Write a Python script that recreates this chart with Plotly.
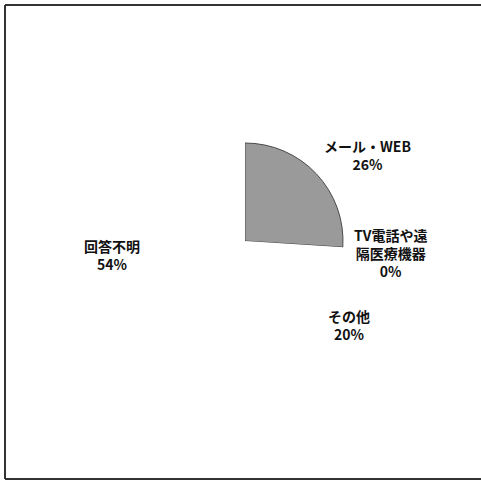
import plotly.graph_objects as go

categories = ["メール・WEB", "TV電話や遠隔医療機器", "その他", "回答不明"]
values = [26, 0, 20, 54]
label_texts = ["メール・WEB<br>26%", "TV電話や遠<br>隔医療機器<br>0%", "その他<br>20%", "回答不明<br>54%"]

W, H = 481, 480
cx, cy, r = 245, 241, 98

fig = go.Figure()
fig.add_trace(go.Pie(
    labels=categories,
    values=values,
    sort=False,
    direction="clockwise",
    rotation=0,
    textinfo="none",
    hoverinfo="label+percent",
    showlegend=False,
    marker=dict(colors=["#9a9a9a", "#ffffff", "#ffffff", "#ffffff"],
                line=dict(color=["#4a4a4a", "#ffffff", "#ffffff", "#ffffff"],
                          width=[1, 0, 0, 0])),
    domain=dict(x=[(cx - r) / W, (cx + r) / W],
                y=[(H - cy - r) / H, (H - cy + r) / H]),
))

# label positions (pixels, center of text block)
label_pos = [(367, 155), (390, 253), (349, 325), (112, 255)]
for txt, (px, py) in zip(label_texts, label_pos):
    fig.add_annotation(x=px / W, y=1 - py / H, xref="paper", yref="paper",
                       text=txt, showarrow=False, xanchor="center", yanchor="middle",
                       align="center",
                       font=dict(family="Noto Sans CJK JP", size=14, color="#111111", weight="bold"))

# frame lines: top, left, bottom
line_style = dict(color="#333333", width=2)
fig.add_shape(type="line", xref="paper", yref="paper", x0=5 / W, x1=1, y0=1 - 5 / H, y1=1 - 5 / H, line=line_style)
fig.add_shape(type="line", xref="paper", yref="paper", x0=5 / W, x1=5 / W, y0=1 - 5 / H, y1=1 - 479 / H, line=line_style)
fig.add_shape(type="line", xref="paper", yref="paper", x0=5 / W, x1=1, y0=1 - 479 / H, y1=1 - 479 / H, line=line_style)

fig.update_layout(width=W, height=H, margin=dict(l=0, r=0, t=0, b=0),
                  paper_bgcolor="white", plot_bgcolor="white")

fig.write_html("out.html", config={"displayModeBar": False},
               post_script="document.body.style.margin='0';document.body.style.overflow='hidden';")
